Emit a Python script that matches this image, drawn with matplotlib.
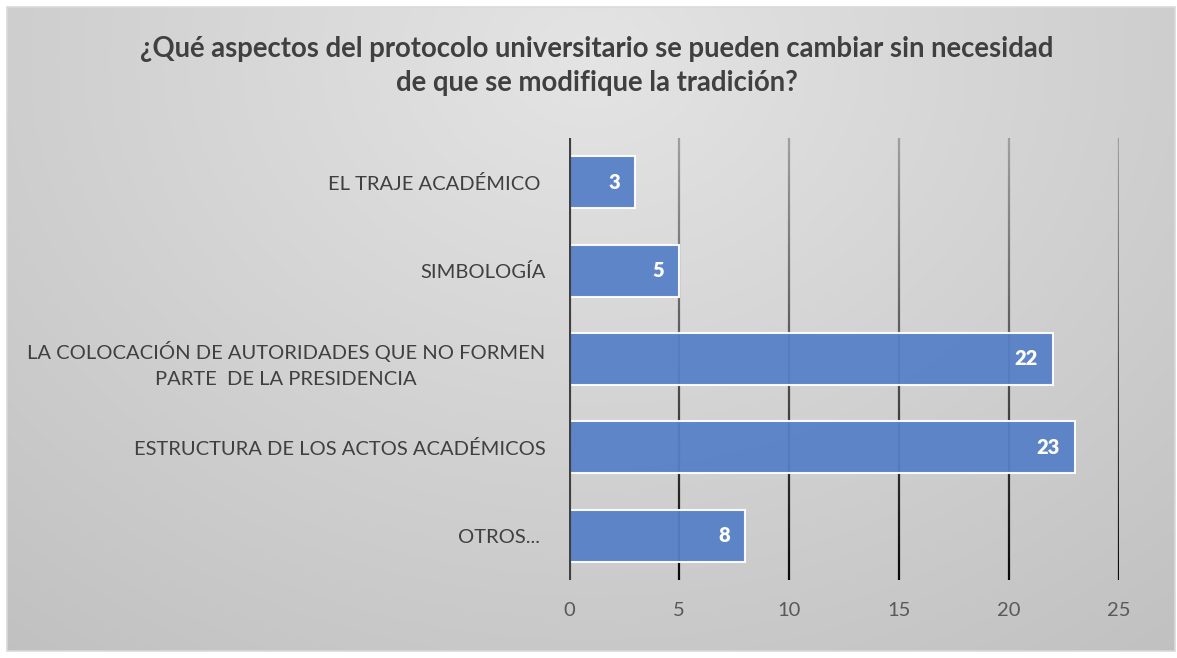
import numpy as np
import matplotlib
matplotlib.use("Agg")
import matplotlib.pyplot as plt
from matplotlib.patches import Rectangle
from matplotlib.collections import LineCollection

categories = [
    "EL TRAJE ACADÉMICO ",
    "SIMBOLOGÍA",
    "LA COLOCACIÓN DE AUTORIDADES QUE NO FORMEN\nPARTE  DE LA PRESIDENCIA",
    "ESTRUCTURA DE LOS ACTOS ACADÉMICOS",
    "OTROS... ",
]
values = [3, 5, 22, 23, 8]
x_ticks = [0, 5, 10, 15, 20, 25]
title = ("¿Qué aspectos del protocolo universitario se pueden cambiar sin necesidad\n"
         "de que se modifique la tradición?")

W, H = 1177, 658
fig = plt.figure(figsize=(W / 100, H / 100), dpi=100)
fig.patch.set_facecolor("white")
plt.rcParams["font.family"] = ["Lato", "DejaVu Sans"]

# background gradient panel
bg = fig.add_axes([7 / W, 1 - 651 / H, (1175 - 7) / W, (651 - 7) / H], zorder=-5)
yy, xx = np.mgrid[0:1:300j, 0:1:600j]
d = np.sqrt(((xx - 0.5) / 0.75) ** 2 + ((yy - 0.08) / 1.1) ** 2)
g = 0.895 - 0.13 * np.clip(d, 0, 1.2)
bg.imshow(np.dstack([g, g, g]), aspect="auto", extent=[0, 1, 1, 0], interpolation="bilinear")
bg.set_xlim(0, 1)
bg.set_ylim(1, 0)
bg.axis("off")
fig.patches.append(Rectangle((7 / W, 1 - 651 / H), (1175 - 7) / W, (651 - 7) / H,
                             transform=fig.transFigure, fill=False,
                             edgecolor="#d9d9d9", lw=1.2, zorder=10))

ax = fig.add_axes([569 / W, 1 - 580 / H, (1119 - 569) / W, (580 - 138) / H])
ax.patch.set_alpha(0)
ypos = np.arange(len(categories))
ax.set_xlim(0, 25)
ax.set_ylim(len(categories) - 0.5, -0.5)

# gradient gridlines (light at top, dark at bottom)
ys = np.linspace(-0.5, len(categories) - 0.5, 60)
for t in x_ticks[1:]:
    segs = [[(t, ys[i]), (t, ys[i + 1])] for i in range(len(ys) - 1)]
    f = np.linspace(0, 1, len(segs))
    cols = [(0.62 * (1 - v) + 0.04 * v,) * 3 for v in f]
    lc = LineCollection(segs, colors=cols, linewidths=1.6, zorder=1)
    ax.add_collection(lc)

bars = ax.barh(ypos, values, height=0.59, color="#5780c8", edgecolor="white",
               linewidth=1.5, alpha=0.94, zorder=2)
for b, v in zip(bars, values):
    ax.annotate(str(v), (v, b.get_y() + b.get_height() / 2), xytext=(-11, 0),
                textcoords="offset points", ha="right", va="center",
                color="white", fontsize=14.5, fontweight="heavy", zorder=4)

ax.axvline(0, color="#404040", lw=3, zorder=3)
for s in ax.spines.values():
    s.set_visible(False)
ax.set_xticks(x_ticks)
ax.set_yticks(ypos)
ax.set_yticklabels(categories, fontsize=14.5, color="#404040",
                   multialignment="center", linespacing=1.6)
ax.tick_params(axis="x", length=0, pad=16, labelsize=14.5, labelcolor="#595959")
ax.tick_params(axis="y", length=0, pad=17)

fig.text(597 / W, 1 - 66 / H, title, ha="center", va="center", fontsize=19.8,
         fontweight="bold", color="#404040", linespacing=1.35)

fig.savefig("out.png", dpi=100)
